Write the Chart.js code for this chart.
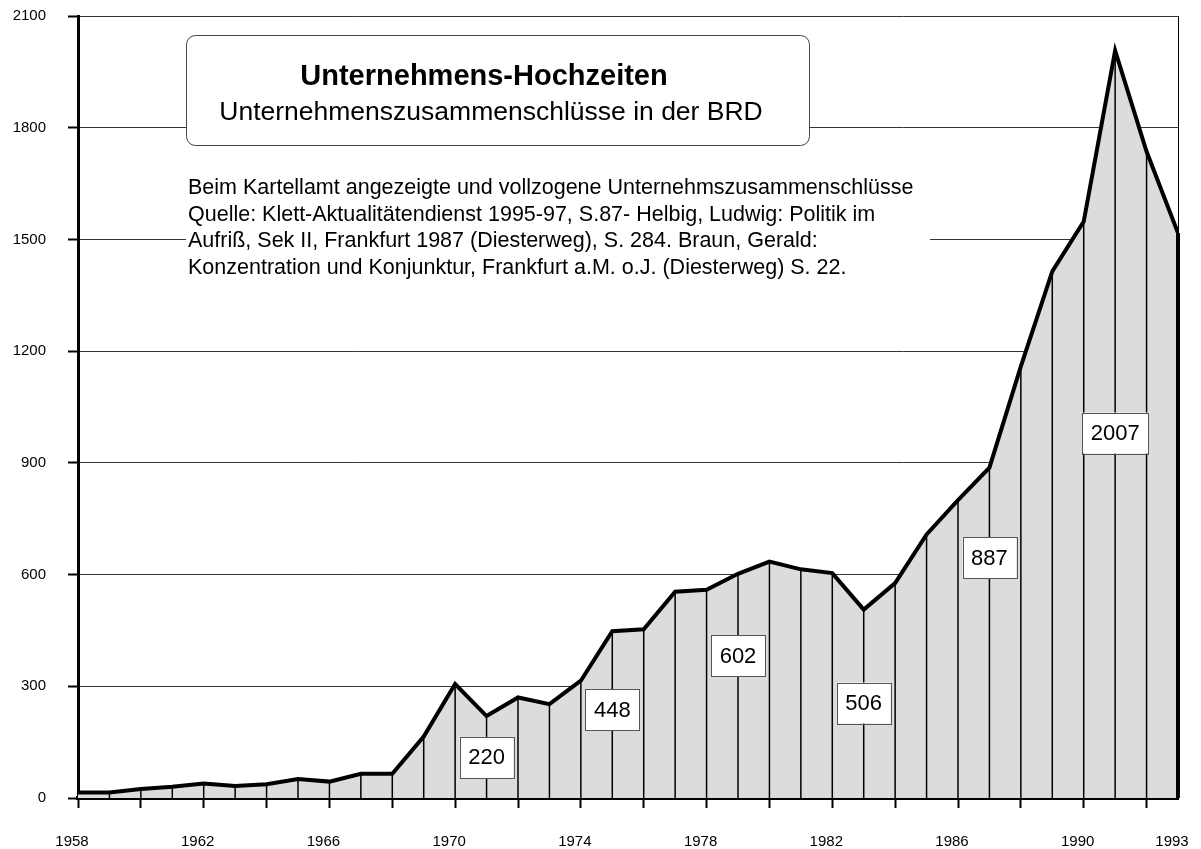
<!DOCTYPE html>
<html>
<head>
<meta charset="utf-8">
<script src="https://cdn.jsdelivr.net/npm/chart.js@4/dist/chart.umd.min.js"></script>
<style>
  html, body { margin: 0; padding: 0; background: #fff; }
</style>
</head>
<body>
<canvas id="fusionChart" width="1201" height="849"></canvas>
<script>
// Unternehmenszusammenschlüsse pro Jahr (Kartellamt)
const years = [1958, 1959, 1960, 1961, 1962, 1963, 1964, 1965, 1966, 1967, 1968, 1969,
               1970, 1971, 1972, 1973, 1974, 1975, 1976, 1977, 1978, 1979, 1980, 1981,
               1982, 1983, 1984, 1985, 1986, 1987, 1988, 1989, 1990, 1991, 1992, 1993]
const mergers = [15, 15, 24, 30, 39, 32, 37, 51, 44, 65, 65, 165,
                 306, 220, 270, 252, 315, 448, 453, 554, 559, 602, 635, 614,
                 604, 506, 577, 708, 800, 887, 1159, 1414, 1548, 2007, 1736, 1517]

// Jahre, deren Wert in einem Kasten steht
const labelledYears = [1971, 1975, 1979, 1983, 1987, 1991]

const yTicks = [0, 300, 600, 900, 1200, 1500, 1800, 2100]
const xTickYears = [1958, 1960, 1962, 1964, 1966, 1968, 1970, 1972, 1974, 1976, 1978,
                    1980, 1982, 1984, 1986, 1988, 1990, 1992, 1993]
const xLabelYears = [1958, 1962, 1966, 1970, 1974, 1978, 1982, 1986, 1990, 1993]

const titleText = "Unternehmens-Hochzeiten"
const subtitleText = "Unternehmenszusammenschlüsse in der BRD"
const noteLines = [
    "Beim Kartellamt angezeigte und vollzogene Unternehmszusammenschlüsse",
    "Quelle: Klett-Aktualitätendienst 1995-97, S.87- Helbig, Ludwig: Politik im",
    "Aufriß, Sek II, Frankfurt 1987 (Diesterweg), S. 284. Braun, Gerald:",
    "Konzentration und Konjunktur, Frankfurt a.M. o.J. (Diesterweg) S. 22."
]

const FONT = '"Liberation Sans", Arial, Helvetica, sans-serif'
Chart.defaults.font.family = FONT
Chart.defaults.color = '#000'

// Title box and source note, drawn over the grid but under the area
const annotations = {
    id: 'annotations',
    beforeDatasetsDraw(chart) {
        const ctx = chart.ctx
        ctx.save()

        // white block behind the note text
        ctx.fillStyle = '#fff'
        ctx.fillRect(186, 166, 744, 122)

        ctx.beginPath()
        ctx.roundRect(186.5, 35.5, 623, 110, 9)
        ctx.fillStyle = '#fff'
        ctx.fill()
        ctx.lineWidth = 1
        ctx.strokeStyle = '#444'
        ctx.stroke()

        ctx.fillStyle = '#000'
        ctx.textAlign = 'center'
        ctx.textBaseline = 'alphabetic'
        ctx.font = 'bold 29px ' + FONT
        ctx.fillText(titleText, 484, 85)
        ctx.font = '26.5px ' + FONT
        ctx.fillText(subtitleText, 491, 120)

        ctx.textAlign = 'left'
        ctx.font = '21.5px ' + FONT
        noteLines.forEach((line, i) => {
            ctx.fillText(line, 188, 194 + i * 26.5)
        })
        ctx.restore()
    }
}

// Vertical drop lines under every point, right frame line and value boxes
const dropLines = {
    id: 'dropLines',
    afterDatasetsDraw(chart, args, opts) {
        const ctx = chart.ctx
        const xs = chart.scales.x
        const ys = chart.scales.y
        const area = chart.chartArea
        ctx.save()

        ctx.strokeStyle = '#000'
        ctx.lineWidth = 1
        ctx.beginPath()
        ctx.moveTo(Math.round(area.right) + 0.5, area.top)
        ctx.lineTo(Math.round(area.right) + 0.5, area.bottom)
        ctx.stroke()

        years.forEach((yr, i) => {
            if (i === 0) return
            const px = xs.getPixelForValue(yr)
            ctx.lineWidth = i === years.length - 1 ? 4 : 1.5
            ctx.beginPath()
            ctx.moveTo(px, ys.getPixelForValue(mergers[i]))
            ctx.lineTo(px, area.bottom)
            ctx.stroke()
        })

        ctx.font = '22px ' + FONT
        ctx.textAlign = 'center'
        ctx.textBaseline = 'middle'
        labelledYears.forEach((yr, k) => {
            const text = String(mergers[years.indexOf(yr)])
            const px = xs.getPixelForValue(yr)
            const py = ys.getPixelForValue(opts.heights[k])
            const w = ctx.measureText(text).width + 17
            const h = 41
            ctx.fillStyle = '#fff'
            ctx.fillRect(px - w / 2, py - h / 2, w, h)
            ctx.strokeStyle = '#555'
            ctx.lineWidth = 1
            ctx.strokeRect(Math.round(px - w / 2) + 0.5, Math.round(py - h / 2) + 0.5, Math.round(w), h)
            ctx.fillStyle = '#000'
            ctx.fillText(text, px, py + 1)
        })
        ctx.restore()
    }
}

const render = () => {
    new Chart(document.getElementById('fusionChart'), {
        type: 'line',
        data: {
            datasets: [{
                data: years.map((yr, i) => ({ x: yr, y: mergers[i] })),
                borderColor: '#000',
                borderWidth: 4,
                borderJoinStyle: 'miter',
                backgroundColor: '#dcdcdc',
                fill: 'origin',
                pointRadius: 0,
                tension: 0,
            }]
        },
        options: {
            responsive: false,
            animation: false,
            devicePixelRatio: 1,
            layout: { padding: { top: 16, right: 23, left: 0, bottom: 0 } },
            plugins: {
                legend: { display: false },
                tooltip: { enabled: false },
                // box centres in axis units
                dropLines: { heights: [109, 237, 382, 255, 645, 980] },
            },
            scales: {
                x: {
                    type: 'linear',
                    min: 1958,
                    max: 1993,
                    afterBuildTicks: (s) => { s.ticks = xTickYears.map(v => ({ value: v })) },
                    afterFit: (s) => {
                        s.height = 51
                        s.paddingLeft = 0
                        s.paddingRight = 0
                    },
                    ticks: {
                        autoSkip: false,
                        maxRotation: 0,
                        padding: 25,
                        labelOffset: -6,
                        font: { size: 15 },
                        color: '#000',
                        callback: (v) => xLabelYears.includes(v) ? String(v) : '',
                    },
                    grid: {
                        drawOnChartArea: false,
                        tickLength: 10,
                        tickWidth: 2,
                        tickColor: (c) => (c.tick && c.tick.value === 1993) ? 'rgba(0,0,0,0)' : '#000',
                    },
                    border: { display: true, color: '#000', width: 4 },
                },
                y: {
                    min: 0,
                    max: 2100,
                    afterBuildTicks: (s) => { s.ticks = yTicks.map(v => ({ value: v })) },
                    afterFit: (s) => {
                        s.width = 78
                        s.paddingTop = 0
                        s.paddingBottom = 0
                    },
                    ticks: {
                        padding: 22,
                        font: { size: 15 },
                        color: '#000',
                        callback: (v) => String(v),
                    },
                    grid: {
                        color: 'rgba(0,0,0,0.8)',
                        lineWidth: 1,
                        tickLength: 10,
                        tickWidth: 2,
                        tickColor: '#000',
                    },
                    border: { display: true, color: '#000', width: 3 },
                },
            },
        },
        plugins: [annotations, dropLines],
    })
}

render()
</script>
</body>
</html>
